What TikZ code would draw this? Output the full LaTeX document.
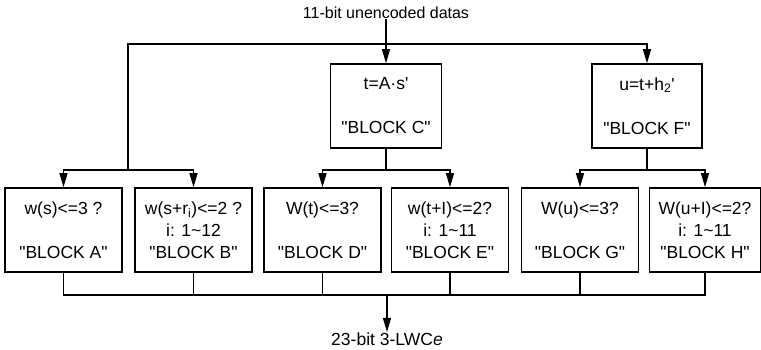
\documentclass[tikz,border=0pt]{standalone}
\usepackage{fontspec}
\setmainfont{Liberation Sans}
\usetikzlibrary{arrows.meta}
\newcommand{\dq}{\textquotedbl}
\newcommand{\pr}{\textquotesingle}
\begin{document}
\begin{tikzpicture}[x=1pt, y=-1pt, line width=1.2pt, >={Triangle[width=8pt,length=14pt]},
    every node/.style={font=\fontsize{17.5}{22}\selectfont},
    block/.style={draw, line width=1.6pt, align=center, minimum width=117pt, minimum height=84pt, inner sep=0pt},
    lbl/.style={inner sep=0pt}]
    \useasboundingbox (0,0) rectangle (761,350) ;

    \node [lbl, font=\fontsize{16}{20}\selectfont] (src) at (386,13) {11-bit unencoded datas} ;
    \node [lbl] (dst) at (387,339) {23-bit 3-LWC\textit{e}} ;

    \node [block, minimum width=111pt] (C) at (386,106) {t=A·s\pr\\ \strut\\ \dq BLOCK C\dq} ;
    \node [block, minimum width=110pt] (F) at (647,106) {u=t+h\textsubscript{2}\pr\\ \strut\\ \dq BLOCK F\dq} ;

    \node [block] (A) at (63.5,230) {w(s)<=3 ?\\ \strut\\ \dq BLOCK A\dq} ;
    \node [block] (B) at (193.5,230) {w(s+r\textsubscript{i})<=2 ?\\ i: 1\textasciitilde12\\ \dq BLOCK B\dq} ;
    \node [block] (D) at (322.5,230) {W(t)<=3?\\ \strut\\ \dq BLOCK D\dq} ;
    \node [block] (E) at (450,230) {w(t+I)<=2?\\ i: 1\textasciitilde11\\ \dq BLOCK E\dq} ;
    \node [block] (G) at (580,230) {W(u)<=3?\\ \strut\\ \dq BLOCK G\dq} ;
    \node [block, minimum width=111pt] (H) at (705,230) {W(u+I)<=2?\\ i: 1\textasciitilde11\\ \dq BLOCK H\dq} ;

    \coordinate (tsplit) at (386,44) ;
    \coordinate (lsplit) at (128,170) ;
    \coordinate (csplit) at (386,170) ;
    \coordinate (fsplit) at (647,170) ;
    \coordinate (bjoin) at (387,295) ;

    % input
    \draw [->] (src) -- (C) ;
    \draw [->] (tsplit) -| (F) ;
    \draw (tsplit) -| (lsplit) ;

    % branches
    \draw [->] (lsplit) -| (A) ;
    \draw [->] (lsplit) -| (B) ;
    \draw (C) -- (csplit) ;
    \draw [->] (csplit) -| (D) ;
    \draw [->] (csplit) -| (E) ;
    \draw (F) -- (fsplit) ;
    \draw [->] (fsplit) -| (G) ;
    \draw [->] (fsplit) -| (H) ;

    % output
    \foreach \b in {A,B,D,E,G,H}
        \draw (\b) |- (bjoin) ;
    \draw [->] (bjoin) -- (dst) ;
\end{tikzpicture}
\end{document}
